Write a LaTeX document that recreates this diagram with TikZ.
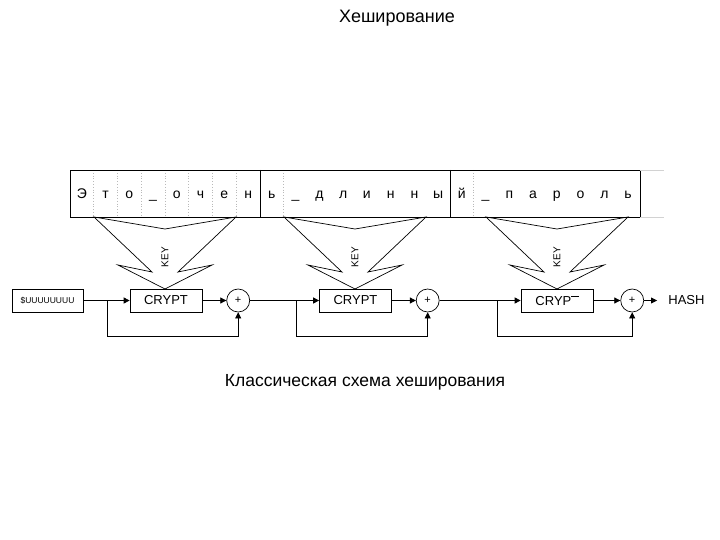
\documentclass[tikz,border=0pt]{standalone}
\usepackage{fontspec}
\setmainfont{Liberation Sans}
\usetikzlibrary{arrows.meta,positioning}

\begin{document}
\begin{tikzpicture}[x=1pt,y=-1pt,line width=0.7pt]
	\tikzset{
	  CellStyle/.style = { anchor=base, inner sep=0pt, font = \fontsize{14}{16}\selectfont },
	  DotStyle/.style = { gray!55, dotted, line width=0.8pt },
	  CryptStyle/.style = { draw, minimum width=72pt, minimum height=23pt,
	                        inner sep=0pt, font = \fontsize{13}{15}\selectfont },
	  SumStyle/.style = { draw, circle, minimum size=23pt, inner sep=0pt,
	                      font = \fontsize{11}{13}\selectfont },
	  KeyStyle/.style = { rotate=90, inner sep=0pt, font = \fontsize{10}{12}\selectfont },
	  EdgeStyle/.style = { -{Triangle[length=6pt,width=6pt]} } }
	\useasboundingbox (0,0) rectangle (720,540);
	\node[font=\fontsize{18}{20}\selectfont] (title) at (397,18) {Хеширование};
	% the password, cell by cell
	\foreach \ch [count=\i] in {Э,т,о,\_,о,ч,е,н,ь,\_,д,л,и,н,н,ы,й,\_,п,а,р,о,л,ь}
	  \node[CellStyle] (cell\i) at ({70+23.75*(\i-0.5)},198.5) {\ch};
	\foreach \i in {1,...,7,9,...,15,17,...,23}
	  \draw[DotStyle] ({70+23.75*\i},170) -- ({70+23.75*\i},217);
	\draw (70,170) rectangle (640,217);
	\draw (260,170) -- (260,217) (450,170) -- (450,217);
	\draw[gray!35] (640,170) -- (664,170) (640,217) -- (664,217);
	% key funnels
	\foreach \c/\n in {165/1,355/2,557/3}{
	  \draw ({\c-71},217) -- ({\c-13},272) -- ({\c-47},265) -- (\c,289)
	     -- ({\c+47},265) -- ({\c+13},272) -- ({\c+71},217) -- (\c,229) -- cycle;
	  \node[KeyStyle] (key\n) at (\c,257) {KEY};
	}
	% chain
	\node[CryptStyle, minimum width=71pt, font=\fontsize{8.5}{10}\selectfont]
	  (init) at (47.5,300.5) {\$UUUUUUUU};
	\node[CryptStyle] (crypt1) at (166,300.5) {CRYPT};
	\node[CryptStyle] (crypt2) at (355.5,300.5) {CRYPT};
	\node[CryptStyle] (crypt3) at (557,300.5) {CRYP\raisebox{0.66em}{\rule{0.55em}{0.7pt}}};
	\node[SumStyle, right=24pt of crypt1] (sum1) {+};
	\node[SumStyle, right=24pt of crypt2] (sum2) {+};
	\node[SumStyle, right=27pt of crypt3] (sum3) {+};
	\node[inner sep=0pt, right=24pt of sum3, font=\fontsize{13}{15}\selectfont] (hash) {HASH};
	\draw[EdgeStyle] (init) -- (crypt1);
	\draw[EdgeStyle] (sum1) -- (crypt2);
	\draw[EdgeStyle] (sum2) -- (crypt3);
	\foreach \n in {1,2,3}
	  \draw[EdgeStyle] (crypt\n) -- (sum\n);
	\draw[EdgeStyle, shorten >=11pt] (sum3) -- (hash);
	\foreach \n/\x in {1/107,2/296,3/497}{
	  \coordinate (fork\n) at (\x,300.5);
	  \draw[EdgeStyle] (fork\n) -- (\x,336) -| (sum\n);
	}
	\node[font=\fontsize{17.5}{20}\selectfont] (caption) at (365,382)
	  {Классическая схема хеширования};
\end{tikzpicture}
\end{document}
